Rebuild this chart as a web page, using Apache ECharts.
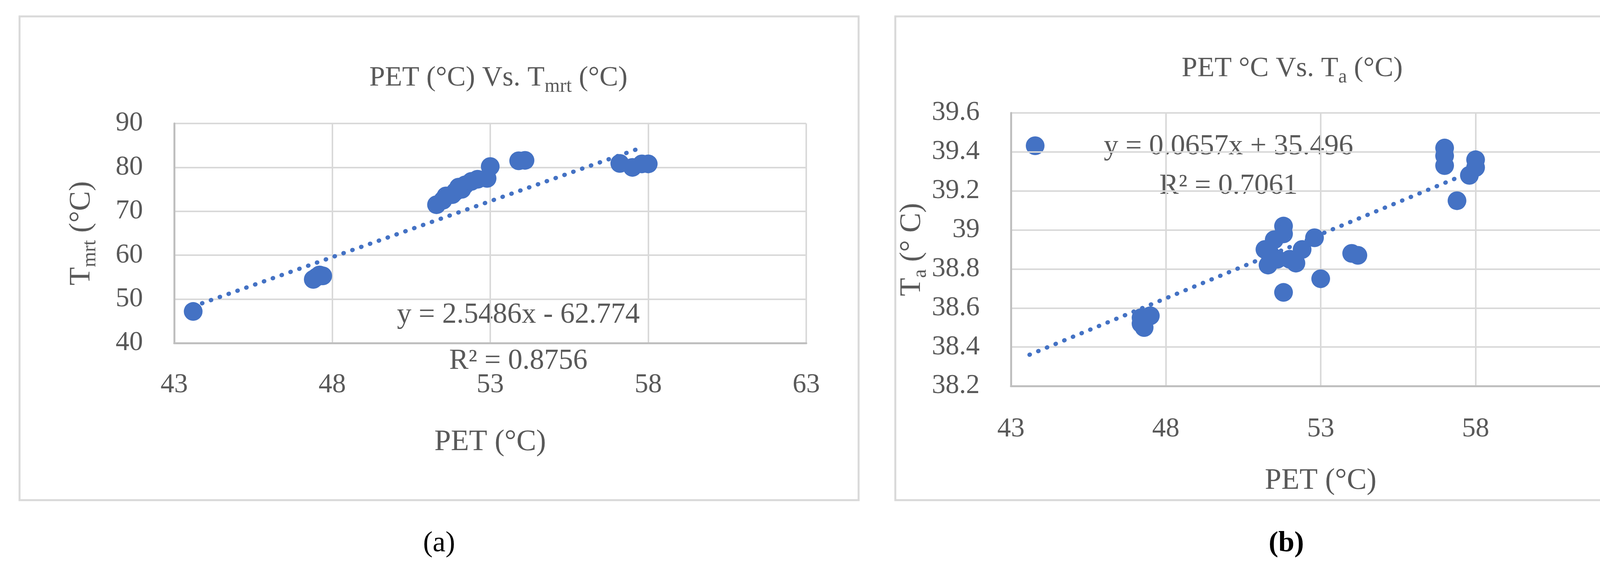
<!DOCTYPE html>
<html>
<head>
<meta charset="utf-8">
<script src="https://cdn.jsdelivr.net/npm/echarts@6/dist/echarts.min.js"></script>
<style>html,body{margin:0;padding:0;background:#fff}#main{width:4306px;height:1446px}</style>
</head>
<body>
<div id="main"></div>
<script>
// PET vs Tmrt
var petA = [43.6, 47.4, 47.5, 47.7, 47.6, 51.3, 51.5, 51.6, 51.8, 51.9, 52.0, 52.1, 52.2, 52.4, 52.6, 52.9, 53.0, 53.9, 54.1, 57.1, 57.5, 57.8, 58.0];
var tmrt = [47.2, 54.5, 55.0, 55.3, 55.5, 71.5, 72.5, 73.5, 73.8, 74.5, 75.5, 75.0, 76.0, 76.8, 77.3, 77.5, 80.2, 81.5, 81.6, 80.9, 80.0, 80.8, 80.8];
// PET vs Ta
var petB = [47.2, 47.2, 47.3, 47.5, 51.2, 51.3, 51.4, 51.5, 51.6, 51.8, 51.8, 51.8, 52.0, 52.2, 52.4, 52.8, 53.0, 54.0, 54.2, 57.0, 57.0, 57.0, 57.4, 57.8, 58.0, 58.0];
var ta = [38.55, 38.52, 38.50, 38.56, 38.90, 38.82, 38.87, 38.95, 38.85, 39.02, 38.98, 38.68, 38.85, 38.83, 38.90, 38.96, 38.75, 38.88, 38.87, 39.42, 39.38, 39.33, 39.15, 39.28, 39.36, 39.32];
var trendX = [43.6, 57.8];
var slopeA = 2.5486, icptA = -62.774;
var slopeB = 0.0657, icptB = 35.496;

function pairs(xs, ys) { return xs.map(function (x, i) { return [x, ys[i]]; }); }
function trend(m, b) { return trendX.map(function (x) { return [x, m * x + b]; }); }

var blue = '#4472C4', grey = '#595959', gridC = '#d9d9d9';
var font = 'Liberation Serif';
var chart = echarts.init(document.getElementById('main'));

function xAx(idx, margin, gap) {
  return {
    gridIndex: idx, type: 'value', min: 43, max: 63, interval: 5,
    name: 'PET (°C)', nameLocation: 'middle', nameGap: gap,
    nameTextStyle: { color: grey, fontFamily: font, fontSize: 76 },
    axisLine: { lineStyle: { color: '#bfbfbf', width: 5 } },
    axisTick: { show: false },
    axisLabel: { color: grey, fontFamily: font, fontSize: 70, margin: margin },
    splitLine: { show: true, lineStyle: { color: gridC, width: 4 } }
  };
}
var subStyle = { fontSize: 50, padding: [44, 0, 0, 0], color: grey, fontFamily: font };

chart.setOption({
  animation: false,
  title: [{
    text: 'PET (°C) Vs. T{s|mrt} (°C)', left: 1271, top: 148, textAlign: 'center',
    textStyle: { color: grey, fontFamily: font, fontSize: 72, fontWeight: 'normal', rich: { s: subStyle } }
  }, {
    text: 'PET °C Vs. T{s|a} (°C)', left: 3303, top: 124, textAlign: 'center',
    textStyle: { color: grey, fontFamily: font, fontSize: 72, fontWeight: 'normal', rich: { s: subStyle } }
  }],
  grid: [
    { left: 446, right: 4306 - 2064, top: 316, height: 562 },
    { left: 2588, right: 4306 - 4174, top: 289, height: 699 }
  ],
  xAxis: [xAx(0, 73, 216), xAx(1, 76, 205)],
  yAxis: [{
    gridIndex: 0, type: 'value', min: 40, max: 90, interval: 10,
    name: 'T{s|mrt} (°C)', nameLocation: 'middle', nameGap: 190,
    nameTextStyle: { color: grey, fontFamily: font, fontSize: 76, rich: { s: subStyle } },
    axisLine: { show: true, lineStyle: { color: '#bfbfbf', width: 5 } },
    axisTick: { show: false },
    axisLabel: { color: grey, fontFamily: font, fontSize: 70, margin: 80 },
    splitLine: { lineStyle: { color: gridC, width: 4 } }
  }, {
    gridIndex: 1, type: 'value', min: 38.2, max: 39.6, interval: 0.2,
    name: 'T{s|a} (° C)', nameLocation: 'middle', nameGap: 197,
    nameTextStyle: { color: grey, fontFamily: font, fontSize: 76, rich: { s: subStyle } },
    axisLine: { show: true, lineStyle: { color: '#bfbfbf', width: 5 } },
    axisTick: { show: false },
    axisLabel: { color: grey, fontFamily: font, fontSize: 70, margin: 80,
      formatter: function (v) { return String(Math.round(v * 10) / 10); } },
    splitLine: { lineStyle: { color: gridC, width: 4 } }
  }],
  series: [
    { type: 'scatter', xAxisIndex: 0, yAxisIndex: 0, data: pairs(petA, tmrt), symbolSize: 48, itemStyle: { color: blue, opacity: 1 } },
    { type: 'line', xAxisIndex: 0, yAxisIndex: 0, data: trend(slopeA, icptA), symbol: 'none',
      lineStyle: { color: blue, width: 11, type: [1, 23], cap: 'round' } },
    { type: 'scatter', xAxisIndex: 1, yAxisIndex: 1, data: pairs(petB, ta), symbolSize: 48, itemStyle: { color: blue, opacity: 1 } },
    { type: 'line', xAxisIndex: 1, yAxisIndex: 1, data: trend(slopeB, icptB), symbol: 'none',
      lineStyle: { color: blue, width: 11, type: [1, 23], cap: 'round' } }
  ],
  graphic: [
    { type: 'rect', shape: { x: 50, y: 42, width: 2148, height: 1238 }, style: { fill: 'none', stroke: gridC, lineWidth: 5 } },
    { type: 'rect', shape: { x: 2292, y: 42, width: 1970, height: 1238 }, style: { fill: 'none', stroke: gridC, lineWidth: 5 } },
    { type: 'text', x: 1327, y: 807, style: { text: 'y = 2.5486x - 62.774', fill: grey, font: '74px "Liberation Serif"', textAlign: 'center', textVerticalAlign: 'middle' } },
    { type: 'text', x: 1327, y: 925, style: { text: 'R² = 0.8756', fill: grey, font: '74px "Liberation Serif"', textAlign: 'center', textVerticalAlign: 'middle' } },
    { type: 'circle', shape: { cx: 2650, cy: 373, r: 24 }, style: { fill: blue } },
    { type: 'text', x: 3145, y: 376, style: { text: 'y = 0.0657x + 35.496', fill: grey, font: '74px "Liberation Serif"', textAlign: 'center', textVerticalAlign: 'middle' } },
    { type: 'text', x: 3145, y: 477, style: { text: 'R² = 0.7061', fill: grey, font: '74px "Liberation Serif"', textAlign: 'center', textVerticalAlign: 'middle' } },
    { type: 'text', x: 1124, y: 1392, style: { text: '(a)', fill: '#000', font: '74px "Liberation Serif"', textAlign: 'center', textVerticalAlign: 'middle' } },
    { type: 'text', x: 3293, y: 1392, style: { text: '(b)', fill: '#000', font: 'bold 74px "Liberation Serif"', textAlign: 'center', textVerticalAlign: 'middle' } }
  ]
});
</script>
</body>
</html>
